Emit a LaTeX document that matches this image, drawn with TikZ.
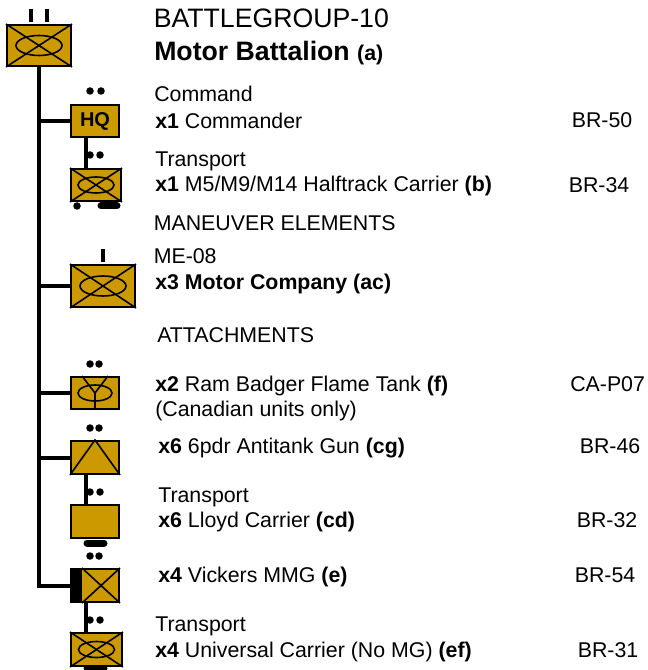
\documentclass[tikz,border=0pt]{standalone}
\usepackage{fontspec}
\setmainfont{Liberation Sans}
\usetikzlibrary{positioning, calc}

\begin{document}
\begin{tikzpicture}[
    x=0.75pt, y=-0.75pt,
    every node/.style={font=\fontsize{16}{18}\selectfont},
]

\definecolor{c1}{HTML}{CC9900}

\tikzset{
  unit/.style={draw=black, line width=1.5pt, fill=c1, inner sep=0pt},
  conn/.style={draw=black, line width=3pt},
  sym/.style={draw=black, line width=1.2pt},
  txt/.style={anchor=base west, inner sep=0pt},
  head/.style={anchor=base west, inner sep=0pt, font=\fontsize{20}{22}\selectfont},
}

% two dots above a unit, x of the first dot and of the second, then y
\newcommand{\dotpair}[3]{%
  \fill (#1, #3) circle (3.75);
  \fill (#2, #3) circle (3.75);
}
% the crossed box with its oval
\newcommand{\crossoval}[3]{%
  \draw[sym] (#1.north west) -- (#1.south east);
  \draw[sym] (#1.south west) -- (#1.north east);
  \draw[sym] (#1.center) ellipse [x radius=#2, y radius=#3];
}
% track under a vehicle
\newcommand{\track}[3]{%
  \draw[line width=5.25pt, line cap=round] (#1, #3) -- (#2, #3);
}

\useasboundingbox (0, 0) rectangle (647, 670);

% ---------------------------------------------------------------- units
\node[unit, minimum width=48pt, minimum height=30.75pt] (bn) at (39, 45.5) {};
\node[unit, minimum width=36pt, minimum height=24pt, font=\fontsize{15}{17}\selectfont\bfseries] (hq) at (95, 121) {HQ};
\node[unit, minimum width=37.5pt, minimum height=24pt] (halftrack) at (96, 185) {};
\node[unit, minimum width=48pt, minimum height=31.5pt] (company) at (103, 286) {};
\node[unit, minimum width=36pt, minimum height=24pt] (flame) at (95, 393) {};
\node[unit, minimum width=36pt, minimum height=24.75pt] (atgun) at (95, 457.5) {};
\node[unit, minimum width=36pt, minimum height=24.75pt] (lloyd) at (95, 521.5) {};
\node[unit, minimum width=36pt, minimum height=24.75pt] (mmg) at (95, 585.5) {};
\node[unit, minimum width=38.25pt, minimum height=24.75pt] (carrier) at (96.5, 649.5) {};

% ---------------------------------------------------------------- connectors
\draw[conn] (bn.south) |- (mmg.west);
\foreach \u in {hq, company, flame, atgun} {
    \draw[conn] (\u.west) -- (\u.west -| bn.south);
}
\draw[conn] ([xshift=12pt]hq.south west) -- ([xshift=12pt]hq.south west |- halftrack.north);
\draw[conn] ([xshift=12pt]atgun.south west) -- ([xshift=12pt]atgun.south west |- lloyd.north);
\draw[conn] ([xshift=12pt]mmg.south west) -- ([xshift=12pt]mmg.south west |- carrier.north);

% ---------------------------------------------------------------- symbols
\crossoval{bn}{23}{10}
\crossoval{halftrack}{18}{8}
\crossoval{company}{23}{10}
\crossoval{carrier}{18}{8}

\draw[sym] (flame.center) ellipse [x radius=17, y radius=8];
\draw[sym] ([xshift=9pt]flame.north west) -- (flame.center) -- ([xshift=-9pt]flame.north east);
\draw[sym] (flame.center) -- (flame.south);

\draw[sym] (atgun.south west) -- (atgun.north) -- (atgun.south east);

\fill (mmg.north west) rectangle ([xshift=9pt]mmg.south west);
\draw[sym] ([xshift=9pt]mmg.north west) -- (mmg.south east);
\draw[sym] ([xshift=9pt]mmg.south west) -- (mmg.north east);

% ---------------------------------------------------------------- size marks
\draw[line width=2.6pt] (31, 9) -- (31, 22);
\draw[line width=2.6pt] (47, 9) -- (47, 22);
\draw[line width=2.6pt] (103, 249) -- (103, 262);
\dotpair{90}{101}{91}
\dotpair{90}{100}{155}
\dotpair{90}{99}{364}
\dotpair{90}{99}{428}
\dotpair{90}{100}{492}
\dotpair{90}{99}{556}
\dotpair{90}{100}{620}

% ---------------------------------------------------------------- tracks
\fill (77, 206) circle (3.75);
\track{101}{117}{206}
\track{87}{104}{543}
\track{87}{104}{668}

% ---------------------------------------------------------------- text
\node[head] (title) at (153.5, 28) {BATTLEGROUP-10};
\node[head, font=\fontsize{20}{22}\selectfont\bfseries] (name) at (154, 61) {Motor Battalion {\fontsize{16}{18}\selectfont(a)}};

\foreach \x/\y/\s/\t in {
    154/102/a/Command,
    155/167/b/Transport,
    153.5/230/c/MANEUVER ELEMENTS,
    153.5/263/d/ME-08,
    157/342/e/ATTACHMENTS,
    155/416/f/(Canadian units only),
    158/502/g/Transport,
    155/631/h/Transport} {
    \node[txt] (lab\s) at (\x, \y) {\t};
}

\node[txt] (l1) at (155, 129) {\textbf{x1} Commander};
\node[txt] (l2) at (155, 192) {\textbf{x1} M5/M9/M14 Halftrack Carrier \textbf{(b)}};
\node[txt] (l3) at (155, 289) {\textbf{x3 Motor Company (ac)}};
\node[txt] (l4) at (155, 391) {\textbf{x2} Ram Badger Flame Tank \textbf{(f)}};
\node[txt] (l5) at (158, 453) {\textbf{x6} 6pdr Antitank Gun \textbf{(cg)}};
\node[txt] (l6) at (158, 527) {\textbf{x6} Lloyd Carrier \textbf{(cd)}};
\node[txt] (l7) at (158, 582) {\textbf{x4} Vickers MMG \textbf{(e)}};
\node[txt] (l8) at (155, 657) {\textbf{x4} Universal Carrier (No MG) \textbf{(ef)}};

\foreach \x/\y/\s/\t in {
    571.5/128/1/BR-50,
    568.5/193/2/BR-34,
    570/391/3/CA-P07,
    579.5/453/4/BR-46,
    576.5/527/5/BR-32,
    574.5/582/6/BR-54,
    577.5/657/7/BR-31} {
    \node[txt] (card\s) at (\x, \y) {\t};
}

\end{tikzpicture}
\end{document}
